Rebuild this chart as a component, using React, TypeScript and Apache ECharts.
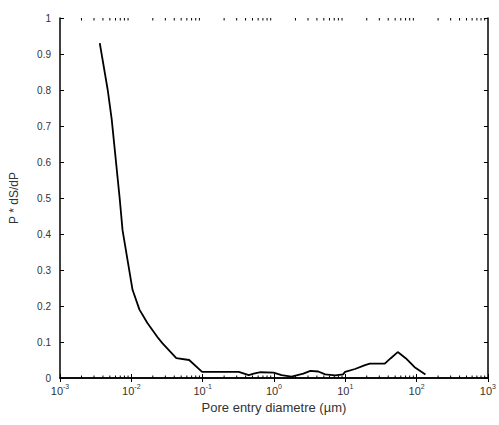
import React, { useEffect, useRef } from "react";
import * as echarts from "echarts";

const diameters = [
  0.00361, 0.00467, 0.0053, 0.00686, 0.00754, 0.0104, 0.013, 0.0168, 0.0232,
  0.0272, 0.0427, 0.0647, 0.0982, 0.321, 0.443, 0.52, 0.65, 0.986, 1.28, 1.76, 2.58,
  3.24, 4.18, 5.23, 7.21, 9.3, 9.93, 13.7, 18.9, 22.1, 35.8, 43.4, 54.4, 70.3, 93.8, 133,
];
const values = [
  0.93, 0.8, 0.72, 0.5, 0.41, 0.245, 0.19, 0.153, 0.114,
  0.097, 0.055, 0.05, 0.017, 0.017, 0.008, 0.012, 0.016, 0.015, 0.008, 0.004, 0.012,
  0.02, 0.018, 0.01, 0.007, 0.01, 0.017, 0.025, 0.036, 0.04, 0.04, 0.055, 0.072, 0.055, 0.03, 0.01,
];
const yTicks = [0, 0.1, 0.2, 0.3, 0.4, 0.5, 0.6, 0.7, 0.8, 0.9, 1];
const xTitle = "Pore entry diametre (µm)";
const yTitle = "P * dS/dP";

const minorTickValues: number[] = [];
for (let e = -3; e < 3; e++) {
  for (let m = 2; m <= 9; m++) minorTickValues.push(m * Math.pow(10, e));
}

export default function App() {
  const ref = useRef<HTMLDivElement>(null);
  useEffect(() => {
    if (!ref.current) return;
    const chart = echarts.init(ref.current, undefined, { renderer: "svg" });
    const font = "Liberation Sans";
    const axisLine = { show: true, lineStyle: { color: "#000", width: 1.5 } };
    chart.setOption({
      animation: false,
      backgroundColor: "#fff",
      textStyle: { fontFamily: font },
      grid: { left: 60, right: 9, top: 18, bottom: 47, containLabel: false },
      xAxis: [
        {
          type: "log",
          logBase: 10,
          min: 0.001,
          max: 1000,
          splitNumber: 6,
          axisLine,
          axisTick: { show: true, inside: true, length: 4, lineStyle: { color: "#000" } },
          splitLine: { show: false },
          axisLabel: {
            color: "#333",
            fontSize: 11,
            margin: 5,
            formatter: (v: number) => `10{sup|${Math.round(Math.log10(v))}}`,
            rich: { sup: { fontSize: 7, verticalAlign: "top", padding: [0, 0, 8, 0], color: "#333" } },
          },
          name: xTitle,
          nameLocation: "middle",
          nameGap: 22,
          nameTextStyle: { color: "#333", fontSize: 13, fontFamily: font },
        },
        {
          type: "log",
          logBase: 10,
          min: 0.001,
          max: 1000,
          position: "top",
          splitNumber: 6,
          axisLine,
          axisTick: { show: true, inside: true, length: 4, lineStyle: { color: "#000" } },
          axisLabel: { show: false },
          splitLine: { show: false },
        },
      ],
      yAxis: [
        {
          type: "value",
          min: 0,
          max: 1,
          interval: 0.1,
          axisLine,
          axisTick: { show: true, inside: true, length: 4, lineStyle: { color: "#000" } },
          splitLine: { show: false },
          axisLabel: {
            color: "#333",
            fontSize: 10,
            margin: 9,
            formatter: (v: number) => {
              const r = Math.round(v * 10) / 10;
              return yTicks.includes(r) ? String(r) : "";
            },
          },
          name: yTitle,
          nameLocation: "middle",
          nameGap: 40,
          nameRotate: 90,
          nameTextStyle: { color: "#333", fontSize: 12, fontFamily: font },
        },
        {
          type: "value",
          min: 0,
          max: 1,
          interval: 0.1,
          position: "right",
          axisLine,
          axisTick: { show: true, inside: true, length: 4, lineStyle: { color: "#000" } },
          axisLabel: { show: false },
          splitLine: { show: false },
        },
      ],
      series: [
        {
          type: "line",
          data: diameters.map((d, i) => [d, values[i]]),
          showSymbol: false,
          lineStyle: { color: "#000", width: 1.8 },
          xAxisIndex: 0,
          yAxisIndex: 0,
        },
        {
          type: "custom",
          xAxisIndex: 0,
          yAxisIndex: 0,
          silent: true,
          data: minorTickValues.map((v) => [v, 0]),
          renderItem: (params: any, api: any) => {
            const p = api.coord([api.value(0), 0]);
            const top = api.coord([api.value(0), 1]);
            return {
              type: "group",
              children: [
                { type: "line", shape: { x1: p[0], y1: p[1], x2: p[0], y2: p[1] - 2.5 }, style: { stroke: "#000", lineWidth: 1 } },
                { type: "line", shape: { x1: top[0], y1: top[1], x2: top[0], y2: top[1] + 2.5 }, style: { stroke: "#000", lineWidth: 1 } },
              ],
            };
          },
        },
      ],
    });
    return () => chart.dispose();
  }, []);
  return <div ref={ref} style={{ position: "fixed", left: 0, top: 0, width: 499, height: 425 }} />;
}
